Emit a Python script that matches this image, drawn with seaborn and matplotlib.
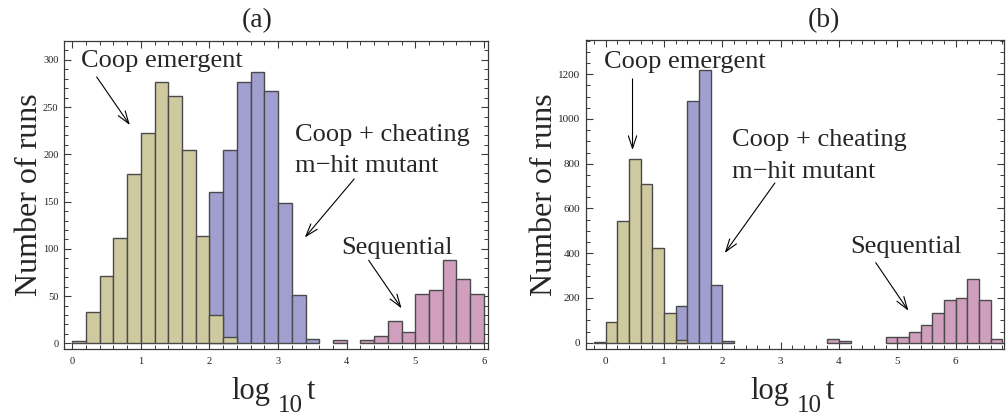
import numpy as np
import pandas as pd
import matplotlib
matplotlib.use("Agg")
import matplotlib.pyplot as plt
from matplotlib.ticker import MultipleLocator, AutoMinorLocator
import seaborn as sns

# ---------------- data (bin left edges, counts) ----------------
BIN_W = 0.2

a_coop_left = [0.0, 0.2, 0.4, 0.6, 0.8, 1.0, 1.2, 1.4, 1.6, 1.8, 2.0, 2.2]
a_coop_cnt = [2, 33, 71, 111, 179, 223, 277, 262, 205, 114, 30, 7]
a_cheat_left = [2.0, 2.2, 2.4, 2.6, 2.8, 3.0, 3.2, 3.4]
a_cheat_cnt = [160, 205, 277, 287, 267, 149, 51, 5]
a_seq_left = [3.8, 4.2, 4.4, 4.6, 4.8, 5.0, 5.2, 5.4, 5.6, 5.8]
a_seq_cnt = [4, 4, 8, 24, 12, 52, 56, 88, 68, 52]

b_coop_left = [-0.2, 0.0, 0.2, 0.4, 0.6, 0.8, 1.0, 1.2]
b_coop_cnt = [4, 91, 543, 819, 710, 425, 131, 12]
b_cheat_left = [1.2, 1.4, 1.6, 1.8, 2.0]
b_cheat_cnt = [164, 1082, 1219, 258, 7]
b_seq_left = [3.8, 4.0, 4.8, 5.0, 5.2, 5.4, 5.6, 5.8, 6.0, 6.2, 6.4, 6.6]
b_seq_cnt = [16, 8, 24, 24, 47, 80, 135, 190, 199, 285, 190, 16]

panel_titles = ["(a)", "(b)"]
label_coop = "Coop emergent"
label_cheat1 = "Coop + cheating"
label_cheat2 = "m\u2212hit mutant"
label_seq = "Sequential"
ylabel = "Number of runs"

# ---------------- style ----------------
sns.set_style("ticks")
plt.rcParams["font.family"] = ["Liberation Serif", "DejaVu Serif"]

C_COOP = "#CFC99F"
C_CHEAT = "#A09FCF"
C_SEQ = "#CF9FBD"
EDGE = "#4a4a4a"
FRAME = "#3a3a3a"

W, H = 1006, 418
fig = plt.figure(figsize=(W / 100, H / 100), dpi=100)


def px_axes(l, t, r, b):
    return fig.add_axes([l / W, 1 - b / H, (r - l) / W, (b - t) / H])


ax_a = px_axes(64, 41, 488, 349)
ax_b = px_axes(586, 40, 1004, 349)


def draw_hist(ax, left, cnt, color):
    df = pd.DataFrame({"x": np.asarray(left, dtype=float) + BIN_W / 2,
                       "n": np.asarray(cnt, dtype=float)})
    lo = min(left)
    hi = max(left) + BIN_W
    nb = int(round((hi - lo) / BIN_W))
    edges = [float(e) for e in np.linspace(lo, hi, nb + 1)]
    before = len(ax.patches)
    sns.histplot(data=df, x="x", weights="n", bins=edges, color=color,
                 edgecolor=EDGE, linewidth=1.0, alpha=1.0, ax=ax)
    for p in ax.patches[before:]:
        if p.get_height() == 0:
            p.set_visible(False)


def style_axes(ax, xlim, ylim, ymajor, yminor_n, lsize):
    ax.set_xlim(*xlim)
    ax.set_ylim(*ylim)
    ax.xaxis.set_major_locator(MultipleLocator(1))
    ax.xaxis.set_minor_locator(AutoMinorLocator(5))
    ax.yaxis.set_major_locator(MultipleLocator(ymajor))
    ax.yaxis.set_minor_locator(AutoMinorLocator(yminor_n))
    ax.tick_params(which="both", direction="in", top=True, right=True,
                   color=FRAME, labelsize=lsize, labelcolor="#222222")
    ax.tick_params(which="major", length=5, width=0.8)
    ax.tick_params(which="minor", length=3, width=0.7)
    ax.tick_params(axis="x", pad=6)
    ax.tick_params(axis="y", pad=4)
    for s in ax.spines.values():
        s.set_visible(True)
        s.set_color(FRAME)
        s.set_linewidth(0.9)
    ax.set_xlabel("")
    ax.set_ylabel(ylabel, fontsize=23, labelpad=-0.5)


def arrow(ax, tail, head):
    ax.annotate("", xy=head, xytext=tail, xycoords="data",
                arrowprops=dict(arrowstyle="->,head_length=0.9,head_width=0.3",
                                color="black", lw=0.8, shrinkA=0, shrinkB=0))


# panel (a)
draw_hist(ax_a, a_seq_left, a_seq_cnt, C_SEQ)
draw_hist(ax_a, a_cheat_left, a_cheat_cnt, C_CHEAT)
draw_hist(ax_a, a_coop_left, a_coop_cnt, C_COOP)
style_axes(ax_a, (-0.12, 6.06), (-6, 320), 50, 5, 7.5)

# panel (b)
draw_hist(ax_b, b_seq_left, b_seq_cnt, C_SEQ)
draw_hist(ax_b, b_cheat_left, b_cheat_cnt, C_CHEAT)
draw_hist(ax_b, b_coop_left, b_coop_cnt, C_COOP)
style_axes(ax_b, (-0.34, 6.83), (-28, 1353), 200, 4, 8)

FS = 19
# annotations (a)
ax_a.text(0.13, 292, label_coop, fontsize=FS, va="baseline", ha="left")
arrow(ax_a, (0.356, 282), (0.84, 231))
ax_a.text(3.25, 214, label_cheat1, fontsize=FS, va="baseline", ha="left")
ax_a.text(3.25, 181, label_cheat2, fontsize=FS, va="baseline", ha="left")
arrow(ax_a, (4.11, 174), (3.39, 112))
ax_a.text(3.92, 95, label_seq, fontsize=FS, va="baseline", ha="left")
arrow(ax_a, (4.32, 88), (4.80, 37))

# annotations (b)
ax_b.text(-0.03, 1229, label_coop, fontsize=FS, va="baseline", ha="left")
arrow(ax_b, (0.458, 1179), (0.458, 861))
ax_b.text(2.16, 879, label_cheat1, fontsize=FS, va="baseline", ha="left")
ax_b.text(2.16, 735, label_cheat2, fontsize=FS, va="baseline", ha="left")
arrow(ax_b, (2.90, 714), (2.04, 401))
ax_b.text(4.19, 402, label_seq, fontsize=FS, va="baseline", ha="left")
arrow(ax_b, (4.63, 358), (5.19, 143))

# titles (positioned as in the reference)
for cx, t in zip([257, 824], panel_titles):
    fig.text(cx / W, 1 - 27.5 / H, t, fontsize=20, ha="center", va="baseline")

# x labels: "log" + lowered "10" + "t"
for cx in [276, 795]:
    fig.text((cx - 45) / W, 1 - 399 / H, "log", fontsize=22, va="baseline", ha="left")
    fig.text((cx + 2) / W, 1 - 412 / H, "10", fontsize=18, va="baseline", ha="left")
    fig.text((cx + 31) / W, 1 - 399 / H, "t", fontsize=22, va="baseline", ha="left")

fig.savefig("out.png", dpi=100)
